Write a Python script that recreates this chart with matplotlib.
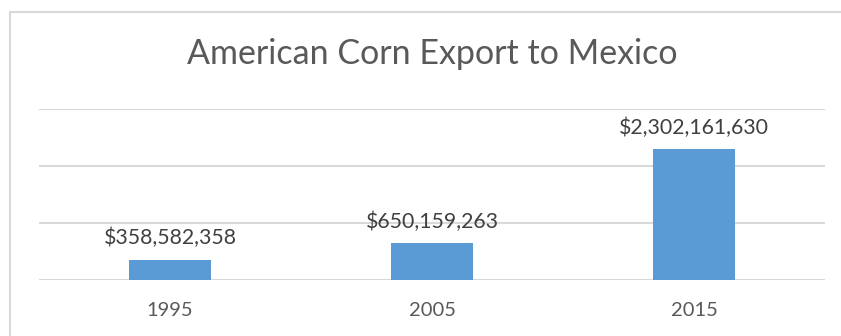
import matplotlib
matplotlib.use("Agg")
import matplotlib.pyplot as plt
from matplotlib.patches import Rectangle

years = ["1995", "2005", "2015"]
exports = [358582358, 650159263, 2302161630]
labels = ["$358,582,358", "$650,159,263", "$2,302,161,630"]

plt.rcParams["font.family"] = ["Lato", "DejaVu Sans"]

fig = plt.figure(figsize=(8.41, 3.36), dpi=100)
ax = fig.add_axes([39 / 841, 56 / 336, 786 / 841, 171 / 336])

# chart border (Excel style frame, cut off right/bottom)
fig.patches.append(Rectangle((10 / 841, -0.2), 2, (336 - 12) / 336 + 0.2,
                             transform=fig.transFigure, fill=False,
                             edgecolor="#D9D9D9", linewidth=1.5))

x = range(len(years))
ax.bar(x, exports, width=0.313, color="#5B9BD5", zorder=3)

for i in x:
    ax.annotate(labels[i], (i, exports[i]), xytext=(0, 8), textcoords="offset points",
                ha="center", va="bottom", fontsize=15.3, color="#404040")

ax.set_xlim(-0.5, 2.5)
ax.set_ylim(0, 3e9)
ax.set_yticks([0, 1e9, 2e9, 3e9])
ax.yaxis.grid(True, color="#D9D9D9", linewidth=1.5, zorder=0)
ax.set_yticklabels([])
ax.tick_params(axis="y", length=0)
ax.set_xticks(list(x))
ax.set_xticklabels(years, fontsize=14.5, color="#595959")
ax.tick_params(axis="x", length=0, pad=16)
for s in ax.spines.values():
    s.set_visible(False)

fig.text(432 / 841, 1 - 54 / 336, "American Corn Export to Mexico", ha="center", va="center",
         fontsize=24.5, color="#595959")

fig.savefig("out.png", dpi=100)
